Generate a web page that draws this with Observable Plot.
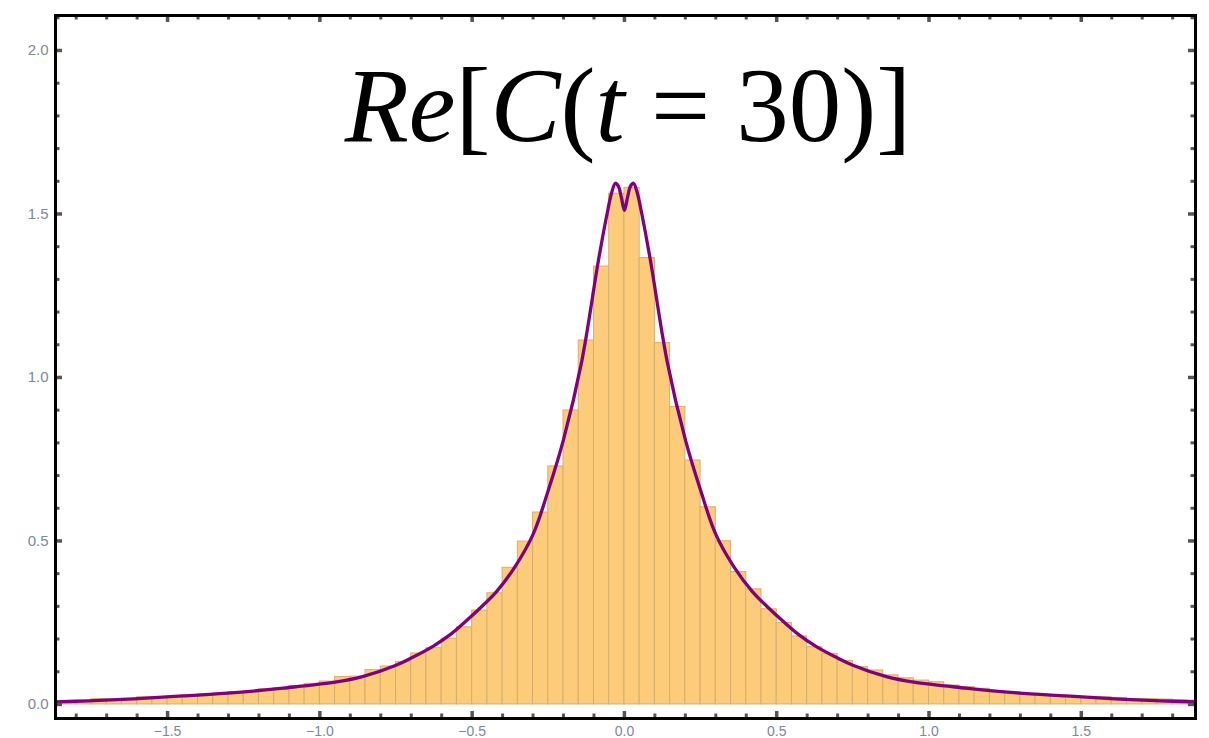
<!DOCTYPE html>
<html>
<head>
<meta charset="utf-8">
<script src="https://cdn.jsdelivr.net/npm/d3@7"></script>
<script src="https://cdn.jsdelivr.net/npm/@observablehq/plot@0.6"></script>
<style>
  html, body { margin: 0; padding: 0; background: #fff; overflow: hidden; }
  #chart svg { display: block; }
</style>
</head>
<body>
<div id="chart"></div>
<script>
// Histogram of Re[C(t = 30)] samples: uniform bins of width 0.05 starting at -1.9
const binStart = -1.9;
const binWidth = 0.05;
const binHeights = [
  0.007, 0.010, 0.010, 0.016, 0.015, 0.017, 0.022, 0.022, 0.024, 0.027,
  0.031, 0.033, 0.038, 0.041, 0.046, 0.050, 0.056, 0.063, 0.070, 0.084,
  0.085, 0.105, 0.116, 0.130, 0.156, 0.172, 0.201, 0.236, 0.287, 0.340,
  0.418, 0.498, 0.587, 0.728, 0.899, 1.113, 1.339, 1.562, 1.580, 1.365,
  1.105, 0.910, 0.746, 0.603, 0.499, 0.405, 0.352, 0.291, 0.249, 0.208,
  0.175, 0.155, 0.133, 0.114, 0.104, 0.089, 0.080, 0.073, 0.068, 0.058,
  0.053, 0.048, 0.040, 0.038, 0.031, 0.030, 0.027, 0.025, 0.022, 0.022,
  0.020, 0.016, 0.016, 0.015, 0.013, 0.012
];

// Predicted density curve (sampled points)
const curveX = [
  -1.87, -1.76, -1.61, -1.45, -1.28, -1.12, -0.95, -0.86, -0.75, -0.70,
  -0.63, -0.57, -0.52, -0.47, -0.42, -0.36, -0.30, -0.25, -0.20, -0.14,
  -0.085, -0.055, -0.042, -0.03, -0.02, -0.01, 0,
  0.01, 0.02, 0.03, 0.042, 0.055, 0.085, 0.14, 0.20, 0.25,
  0.30, 0.36, 0.42, 0.47, 0.52, 0.57, 0.63, 0.70, 0.75, 0.86,
  0.95, 1.12, 1.28, 1.45, 1.61, 1.76, 1.875
];
const curveY = [
  0.008, 0.011, 0.017, 0.026, 0.036, 0.050, 0.068, 0.085, 0.120, 0.142,
  0.177, 0.215, 0.255, 0.298, 0.345, 0.420, 0.520, 0.655, 0.810, 1.050,
  1.360, 1.510, 1.565, 1.594, 1.585, 1.550, 1.511,
  1.550, 1.585, 1.594, 1.565, 1.510, 1.360, 1.050, 0.810, 0.655,
  0.520, 0.420, 0.345, 0.298, 0.255, 0.215, 0.177, 0.142, 0.120, 0.085,
  0.068, 0.050, 0.036, 0.026, 0.017, 0.011, 0.008
];

// Frame ticks
const xTicks = [-1.5, -1.0, -0.5, 0.0, 0.5, 1.0, 1.5];
const xMinorTicks = [-1.8, -1.7, -1.6, -1.4, -1.3, -1.2, -1.1, -0.9, -0.8, -0.7, -0.6,
  -0.4, -0.3, -0.2, -0.1, 0.1, 0.2, 0.3, 0.4, 0.6, 0.7, 0.8, 0.9, 1.1, 1.2, 1.3, 1.4,
  1.6, 1.7, 1.8];
const yTicks = [0.0, 0.5, 1.0, 1.5, 2.0];
const yMinorTicks = [0.1, 0.2, 0.3, 0.4, 0.6, 0.7, 0.8, 0.9, 1.1, 1.2, 1.3, 1.4,
  1.6, 1.7, 1.8, 1.9, 2.1];

// Title pieces: [text, italic]
const titleParts = [["Re", true], ["[", false], ["C", true], ["(", false], ["t", true], [" = 30)]", false]];

const bins = binHeights.map((h, i) => ({
  x0: binStart + i * binWidth,
  x1: binStart + (i + 1) * binWidth,
  h
}));
const curve = curveX.map((x, i) => ({x, y: curveY[i]}));

const W = 1209, H = 760;
const mL = 55, mR = 14, mT = 15, mB = 42;
const innerW = W - mL - mR, innerH = H - mT - mB;
const majorLen = 7, minorLen = 4.5;
const tickColor = "#555555";
const labelColor = "#7e879a";
const fmt = d3.format(".1f");

const plot = Plot.plot({
  width: W,
  height: H,
  marginLeft: mL,
  marginRight: mR,
  marginTop: mT,
  marginBottom: mB,
  style: {fontFamily: "'Liberation Sans', Arial, sans-serif", fontSize: "15px", background: "#fff"},
  x: {domain: [-1.868, 1.875], label: null},
  y: {domain: [-0.043, 2.107], label: null},
  marks: [
    Plot.rect(bins, {
      x1: "x0", x2: "x1", y1: 0, y2: "h",
      fill: "#fccc7b", stroke: "#d8ae6c", strokeWidth: 1, clip: true
    }),
    Plot.line(curve, {
      x: "x", y: "y", stroke: "#800080", strokeWidth: 3.3,
      curve: "catmull-rom", clip: true
    }),
    // bottom and top ticks
    Plot.tickX(xTicks, {x: d => d, stroke: tickColor, strokeWidth: 3.5, insetTop: innerH - majorLen}),
    Plot.tickX(xMinorTicks, {x: d => d, stroke: tickColor, strokeWidth: 3, insetTop: innerH - minorLen}),
    Plot.tickX(xTicks, {x: d => d, stroke: tickColor, strokeWidth: 3.5, insetBottom: innerH - majorLen}),
    Plot.tickX(xMinorTicks, {x: d => d, stroke: tickColor, strokeWidth: 3, insetBottom: innerH - minorLen}),
    // left and right ticks
    Plot.tickY(yTicks, {y: d => d, stroke: tickColor, strokeWidth: 3.5, insetRight: innerW - majorLen}),
    Plot.tickY(yMinorTicks, {y: d => d, stroke: tickColor, strokeWidth: 3, insetRight: innerW - minorLen}),
    Plot.tickY(yTicks, {y: d => d, stroke: tickColor, strokeWidth: 3.5, insetLeft: innerW - majorLen}),
    Plot.tickY(yMinorTicks, {y: d => d, stroke: tickColor, strokeWidth: 3, insetLeft: innerW - minorLen}),
    // tick labels
    Plot.axisX(xTicks, {tickSize: 0, tickPadding: 8, tickFormat: fmt, fill: labelColor, fontSize: 14, label: null}),
    Plot.axisY(yTicks, {tickSize: 0, tickPadding: 7, tickFormat: fmt, fill: labelColor, label: null}),
    Plot.frame({stroke: "#000", strokeWidth: 3})
  ]
});

// Title inside the frame, set in mixed italic / upright serif
const title = d3.select(plot).append("text")
  .attr("x", 628)
  .attr("y", 141)
  .attr("text-anchor", "middle")
  .attr("font-family", "'Liberation Serif', 'Times New Roman', serif")
  .attr("font-size", 105)
  .attr("fill", "#000")
  .style("white-space", "pre");
titleParts.forEach(([s, italic]) => {
  title.append("tspan").attr("font-style", italic ? "italic" : "normal").text(s);
});

document.getElementById("chart").appendChild(plot);
</script>
</body>
</html>
